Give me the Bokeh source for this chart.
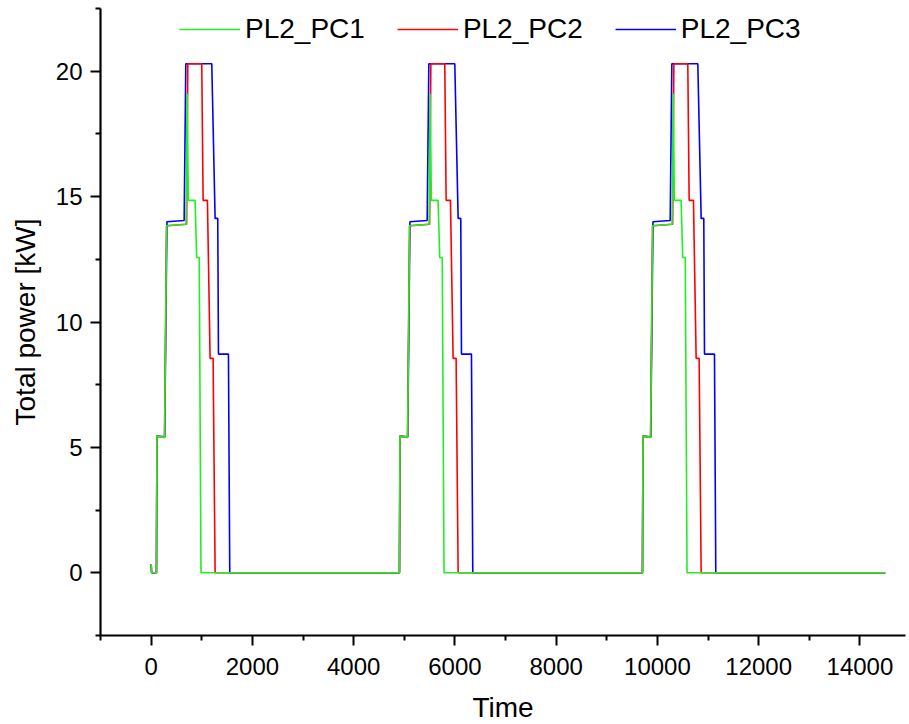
from bokeh.plotting import figure
from bokeh.models import Range1d, Legend, LegendItem, ColumnDataSource
from bokeh.embed import file_html
from bokeh.resources import INLINE

# ---- data (time in s, power in kW) ----
cycle_starts = [0, 4800, 9600]
end_time = 14500
start_blip_t = [0, 10]
start_blip_v = [0.35, 0.0]

pc1_t = [105, 115, 265, 305, 690, 712, 735, 868, 900, 950, 985]
pc1_v = [0.0, 5.45, 5.40, 13.84, 13.90, 19.10, 14.85, 14.85, 12.57, 12.57, 0.0]

pc2_t = [105, 115, 265, 305, 700, 725, 1000, 1027, 1112, 1165, 1224, 1264]
pc2_v = [0.0, 5.45, 5.40, 13.84, 13.90, 20.30, 20.30, 14.85, 14.85, 8.55, 8.55, 0.0]

pc3_t = [105, 115, 268, 312, 652, 685, 1198, 1264, 1316, 1330, 1527, 1553]
pc3_v = [0.0, 5.45, 5.42, 14.00, 14.05, 20.30, 20.30, 14.13, 14.13, 8.72, 8.72, 0.0]

series_names = ["PL2_PC1", "PL2_PC2", "PL2_PC3"]
series_colors = ["#22ee22", "#ff0000", "#0000ff"]

x_ticks = [0, 2000, 4000, 6000, 8000, 10000, 12000, 14000]
y_ticks = [0, 5, 10, 15, 20]


def build(prof_t, prof_v):
    xs = list(start_blip_t)
    ys = list(start_blip_v)
    for c in cycle_starts:
        xs += [c + t for t in prof_t]
        ys += list(prof_v)
    xs.append(end_time)
    ys.append(0.0)
    return xs, ys


FONT = "Liberation Sans"

p = figure(frame_width=805, frame_height=627,
           x_range=Range1d(-1000, 14900), y_range=Range1d(-2.5, 22.5),
           output_backend="svg", toolbar_location=None,
           min_border_left=100, min_border_right=4, min_border_top=8,
           min_border_bottom=89)
p.outline_line_color = None
p.xgrid.visible = False
p.ygrid.visible = False
p.background_fill_color = "white"
p.border_fill_color = "white"

data = {}
for name, (pt, pv) in zip(series_names, [(pc1_t, pc1_v), (pc2_t, pc2_v), (pc3_t, pc3_v)]):
    data[name] = build(pt, pv)

renderers = {}
# draw order: blue under red under green
for name, col in [("PL2_PC3", series_colors[2]), ("PL2_PC2", series_colors[1]), ("PL2_PC1", series_colors[0])]:
    xs, ys = data[name]
    src = ColumnDataSource(dict(x=xs, y=ys))
    renderers[name] = p.line("x", "y", source=src, line_color=col, line_width=1.6)

legend = Legend(items=[LegendItem(label=n, renderers=[renderers[n]]) for n in series_names],
                orientation="horizontal", location=(79, 590))
legend.border_line_color = None
legend.background_fill_alpha = 0
legend.padding = 0
legend.margin = 0
legend.spacing = 32
legend.glyph_width = 61
legend.label_standoff = 5
legend.label_text_font = FONT
legend.label_text_font_size = "28px"
legend.label_text_color = "black"
p.add_layout(legend, "center")

for ax in (p.xaxis[0], p.yaxis[0]):
    ax.axis_line_width = 2.2
    ax.axis_line_color = "black"
    ax.major_tick_line_width = 2
    ax.minor_tick_line_width = 2
    ax.major_tick_out = 10
    ax.major_tick_in = 0
    ax.minor_tick_out = 5
    ax.minor_tick_in = 0
    ax.major_label_text_font = FONT
    ax.major_label_text_font_size = "24px"
    ax.major_label_text_color = "black"
    ax.axis_label_text_font = FONT
    ax.axis_label_text_font_size = "28px"
    ax.axis_label_text_font_style = "normal"
    ax.axis_label_text_color = "black"

p.xaxis.ticker = x_ticks
p.xaxis[0].ticker.minor_ticks = [-1000, 1000, 3000, 5000, 7000, 9000, 11000, 13000]
p.yaxis.ticker = y_ticks
p.yaxis[0].ticker.minor_ticks = [-2.5, 2.5, 7.5, 12.5, 17.5, 22.5]
p.xaxis.axis_label = "Time"
p.yaxis.axis_label = "Total power [kW]"
p.xaxis.major_label_standoff = 12
p.yaxis.major_label_standoff = 8
p.xaxis.axis_label_standoff = 14
p.yaxis.axis_label_standoff = 12

open("out.html", "w").write(file_html(p, INLINE))
